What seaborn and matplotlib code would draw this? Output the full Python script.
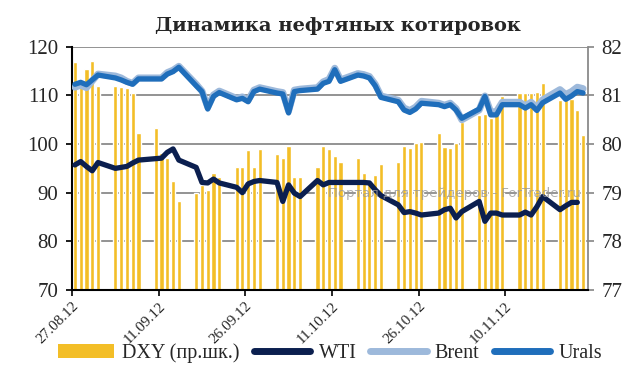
import pandas as pd
import numpy as np
import matplotlib
matplotlib.use("Agg")
import matplotlib.pyplot as plt
import seaborn as sns
from matplotlib.patches import Patch
from matplotlib.lines import Line2D

# business days 27.08.12 - 23.11.12
dates = pd.bdate_range("2012-08-27", "2012-11-23")

dxy = [
    81.68, 81.20, 81.54, 81.71, 81.20,
    81.20, 81.18, 81.15, 81.05, 80.22,
    80.34, 79.81, 79.71, 79.25, 78.82,
    79.00, 79.16, 79.06, 79.40, 79.33,
    79.52, 79.52, 79.88, 79.52, 79.90,
    79.80, 79.72, 79.96, 79.33, 79.33,
    79.52, 79.95, 79.90, 79.76, 79.64,
    79.71, 79.41, 79.25, 79.37, 79.59,
    79.64, 79.96, 79.92, 80.02, 80.05,
    80.22, 79.93, 79.92, 80.02, 80.46,
    80.60, 80.61, 80.53, 80.60, 80.99,
    81.05, 81.06, 81.05, 81.08, 81.25,
    80.90, 80.90, 80.92, 80.70, 80.19,
]

wti = [
    95.7, 96.4, 95.4, 94.5, 96.2,
    95.0, 95.2, 95.4, 96.1, 96.7,
    97.0, 97.1, 98.3, 99.0, 96.7,
    95.2, 92.1, 92.0, 92.8, 92.0,
    91.1, 90.0, 91.8, 92.3, 92.5,
    92.1, 88.2, 91.6, 89.9, 89.2,
    92.5, 91.6, 92.1, 92.1, 92.1,
    92.1, 92.1, 92.0, 90.6, 89.4,
    87.5, 85.9, 86.1, 85.8, 85.4,
    85.8, 86.5, 86.8, 84.8, 86.1,
    88.2, 84.1, 85.8, 85.8, 85.4,
    85.4, 86.0, 85.4, 87.1, 89.2,
    86.5, 87.3, 88.0, 88.0, np.nan,
]

brent = [
    111.7, 112.1, 111.6, 113.0, 114.4,
    114.0, 113.6, 112.9, 112.5, 113.6,
    113.6, 113.6, 114.7, 115.2, 116.0,
    112.3, 110.9, 107.6, 110.1, 110.9,
    109.4, 109.7, 109.0, 111.1, 111.6,
    110.8, 110.6, 106.8, 111.1, 111.3,
    111.6, 112.8, 113.3, 115.6, 113.2,
    114.5, 114.3, 113.9, 112.3, 109.9,
    109.0, 107.4, 106.9, 107.6, 108.8,
    108.4, 108.0, 108.4, 107.3, 105.0,
    107.0, 109.9, 106.6, 106.7, 108.6,
    108.6, 107.9, 108.6, 107.5, 109.1,
    111.2, 110.2, 110.8, 111.7, 111.4,
]

urals = [
    112.3, 112.7, 112.2, 113.2, 114.2,
    113.6, 113.2, 112.7, 112.3, 113.4,
    113.4, 113.4, 114.4, 114.9, 115.8,
    112.0, 110.8, 107.2, 109.8, 110.6,
    109.1, 109.4, 108.7, 110.8, 111.3,
    110.5, 110.3, 106.4, 110.8, 111.0,
    111.3, 112.5, 112.9, 115.3, 112.9,
    114.2, 114.0, 113.6, 112.0, 109.6,
    108.7, 107.0, 106.5, 107.2, 108.4,
    108.1, 107.7, 108.1, 107.0, 105.3,
    107.2, 109.8, 106.0, 106.0, 108.1,
    108.1, 107.4, 108.1, 106.9, 108.5,
    110.5, 109.2, 109.9, 110.8, 110.5,
]

tick_labels = ["27.08.12", "11.09.12", "26.09.12", "11.10.12", "26.10.12", "10.11.12"]
left_ticks = [70, 80, 90, 100, 110, 120]
right_ticks = [77, 78, 79, 80, 81, 82]

df = pd.DataFrame({"date": dates, "DXY": dxy, "WTI": wti, "Brent": brent, "Urals": urals})
df["day"] = (df["date"] - df["date"].iloc[0]).dt.days

c_dxy = "#F3BE27"
c_wti = "#0B1F4F"
c_brent = "#9DB9DB"
c_urals = "#1F6EBB"

sns.set_theme(style="white")
plt.rcParams["font.family"] = ["Liberation Serif", "DejaVu Serif"]

fig, ax = plt.subplots(figsize=(6.43, 3.66), dpi=100)
fig.subplots_adjust(left=0.112, right=0.914, top=0.872, bottom=0.208)

# DXY bars (right scale)
sns.barplot(data=df, x="day", y="DXY", native_scale=True, color=c_dxy,
            saturation=1, width=0.72, errorbar=None, ax=ax, zorder=2)
ax.set_ylim(77, 82)
ax.set_yticks(right_ticks)
ax.grid(axis="y", color="#8A8A8A", linewidth=1.3)
ax.grid(axis="x", visible=False)
ax.set_axisbelow(True)

# oil prices (left scale)
ax2 = ax.twinx()
sns.lineplot(data=df, x="day", y="Brent", ax=ax2, color=c_brent, linewidth=5,
             solid_capstyle="round", solid_joinstyle="round")
sns.lineplot(data=df, x="day", y="Urals", ax=ax2, color=c_urals, linewidth=3.8,
             solid_capstyle="round", solid_joinstyle="round")
sns.lineplot(data=df, x="day", y="WTI", ax=ax2, color=c_wti, linewidth=3.8,
             solid_capstyle="round", solid_joinstyle="round")
ax2.set_ylim(70, 120)
ax2.set_yticks(left_ticks)
ax2.grid(False)

# swap sides: oil on the left, DXY on the right
ax.yaxis.tick_right()
ax2.yaxis.tick_left()
ax.set_xlim(-0.5, 88.8)

ax.set_xticks([-0.5 + 15 * k for k in range(len(tick_labels))])
ax.set_xticklabels(tick_labels, rotation=45, ha="right", rotation_mode="anchor", fontsize=11)
ax.tick_params(axis="x", bottom=True, length=4, width=1.2, color="black", pad=3)
ax.tick_params(axis="y", right=True, left=False, labelright=True, labelleft=False,
               length=4, color="#8A8A8A", labelsize=15, pad=6)
ax2.tick_params(axis="y", left=True, right=False, length=4, color="black", labelsize=15, pad=6)

for a in (ax, ax2):
    a.set_xlabel("")
    a.set_ylabel("")
    for s in a.spines.values():
        s.set_visible(False)
ax.spines["bottom"].set_visible(True)
ax.spines["bottom"].set_color("black")
ax.spines["bottom"].set_linewidth(1.5)
ax.spines["left"].set_visible(True)
ax.spines["left"].set_color("black")
ax.spines["left"].set_linewidth(1.5)
ax.spines["right"].set_visible(True)
ax.spines["right"].set_color("#8A8A8A")
ax.spines["right"].set_linewidth(1.3)

fig.suptitle("Динамика нефтяных котировок", x=0.526, y=0.93, va="center",
             fontsize=14, fontweight="bold", family=["DejaVu Serif"])

fig.text(328 / 643, 1 - 193 / 366, "Портал для трейдеров - ForTrader.ru",
         fontsize=9.5, color="#9A9A9A", alpha=0.8, va="center", ha="left",
         family=["DejaVu Sans"])

handles = [
    Patch(facecolor=c_dxy, edgecolor="none"),
    Line2D([0], [0], color=c_wti, linewidth=5, solid_capstyle="round"),
    Line2D([0], [0], color=c_brent, linewidth=5, solid_capstyle="round"),
    Line2D([0], [0], color=c_urals, linewidth=5, solid_capstyle="round"),
]
fig.legend(handles, ["DXY (пр.шк.)", "WTI", "Brent", "Urals"], loc="center",
           bbox_to_anchor=(0.513, 0.034), ncol=4, frameon=False, fontsize=14.5,
           handlelength=2.8, handletextpad=0.4, columnspacing=0.7)

fig.savefig("out.png", dpi=100)
